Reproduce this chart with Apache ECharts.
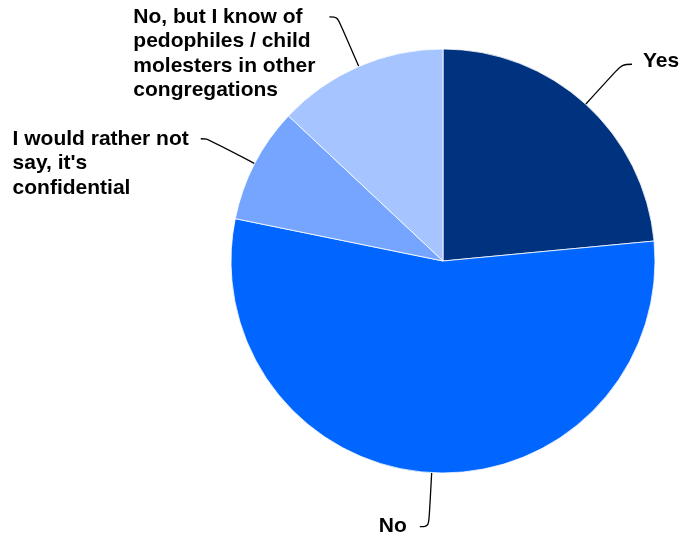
<!DOCTYPE html>
<html>
<head>
<meta charset="utf-8">
<script src="https://cdn.jsdelivr.net/npm/echarts@6/dist/echarts.min.js"></script>
<style>html,body{margin:0;padding:0;background:#fff}#c{width:682px;height:537px}</style>
</head>
<body>
<div id="c"></div>
<script>
const categories = [
  "Yes",
  "No",
  "I would rather not\nsay, it's\nconfidential",
  "No, but I know of\npedophiles / child\nmolesters in other\ncongregations"
];
const values = [23.5, 54.7, 8.8, 13.0];
const colors = ["#00337F", "#0066FF", "#76A5FF", "#A6C4FF"];
const lineLen2 = [10, 9, 6, 8];
const labelGap = [11, 13, 12, 14];

const LH = 24.5;
const data = categories.map((name, i) => {
  const lines = name.split("\n");
  const padTop = (lines.length - 1) * LH;
  return {
    name: name,
    value: values[i],
    itemStyle: { color: colors[i] },
    label: {
      padding: [padTop, 0, i === 0 ? 6 : 0, 0],
      distanceToLabelLine: labelGap[i]
    },
    labelLine: { length: 54, length2: lineLen2[i] }
  };
});

const chart = echarts.init(document.getElementById('c'), null, { renderer: 'canvas' });
chart.setOption({
  animation: false,
  backgroundColor: '#fff',
  series: [{
    type: 'pie',
    center: [443, 261],
    radius: [0, 212],
    startAngle: 90,
    clockwise: true,
    avoidLabelOverlap: false,
    labelLayout: { hideOverlap: false },
    itemStyle: { borderColor: '#ffffff', borderWidth: 0.8 },
    label: {
      show: true,
      position: 'outside',
      color: '#000',
      fontFamily: 'Liberation Sans, Arial, sans-serif',
      fontWeight: 'bold',
      fontSize: 21,
      lineHeight: LH,
      formatter: function (p) {
        return p.name.split("\n").map(l => '{l|' + l + '}').join("\n");
      },
      rich: {
        l: {
          align: 'left',
          color: '#000',
          fontFamily: 'Liberation Sans, Arial, sans-serif',
          fontWeight: 'bold',
          fontSize: 21,
          lineHeight: LH
        }
      }
    },
    labelLine: {
      show: true,
      smooth: 0.35,
      lineStyle: { color: '#000', width: 1.3 }
    },
    data: data
  }]
});
</script>
</body>
</html>
